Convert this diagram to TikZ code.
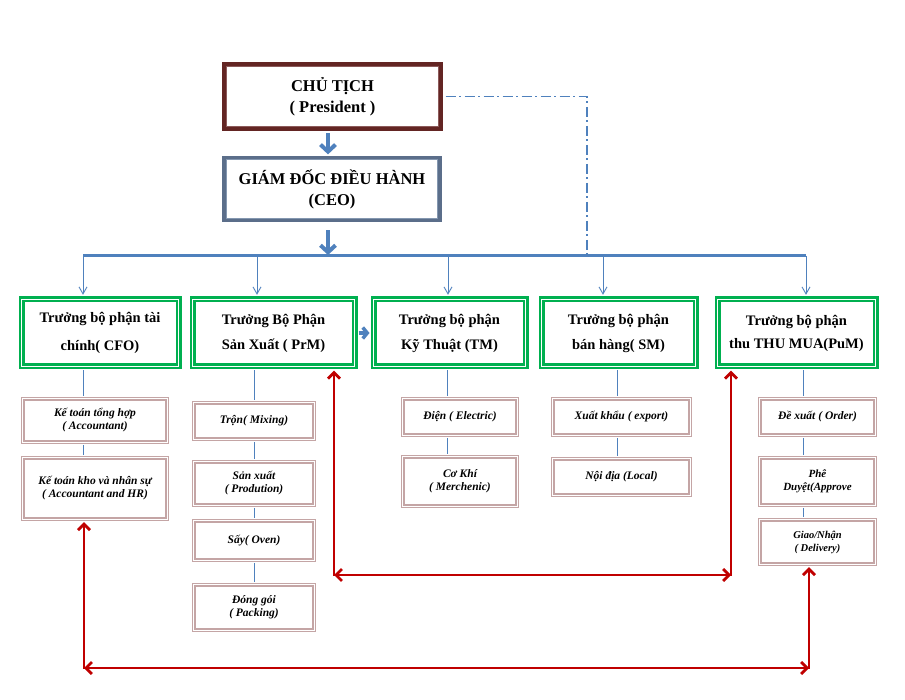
\documentclass[tikz,border=0pt]{standalone}
\usepackage{fontspec}
\setmainfont{Liberation Serif}
\usetikzlibrary{arrows.meta}
\definecolor{blu}{HTML}{4F81BD}
\definecolor{grn}{HTML}{00B050}
\definecolor{maroonc}{HTML}{632523}
\definecolor{maroonin}{HTML}{8C5A5A}
\definecolor{ceoc}{HTML}{5B6E8A}
\definecolor{ceoin}{HTML}{8497B0}
\definecolor{pinkc}{HTML}{C4A5A5}
\definecolor{rd}{HTML}{C00000}
\begin{document}
\begin{tikzpicture}[x=1pt,y=-1pt,
  topbox/.style={align=center, inner sep=0pt, font=\fontsize{16.5}{21}\selectfont\bfseries},
  gbox/.style={draw=grn, double=white, line width=2.4pt, double distance=1.2pt, align=center, inner sep=0pt, font=\fontsize{14.5}{25}\selectfont\bfseries},
  pbox/.style={draw=pinkc, double=white, line width=1.6pt, double distance=1pt, align=center, inner sep=0pt, font=\fontsize{11.5}{13}\selectfont\bfseries\itshape},
  bigarr/.style={draw=blu, line width=4pt, -{Straight Barb[length=7pt,width=15pt]}},
  droparr/.style={draw=blu, line width=0.9pt, -{Straight Barb[length=7pt,width=8pt]}},
  subline/.style={draw=blu, line width=0.8pt},
  redarr/.style={draw=rd, line width=2.8pt, >={Straight Barb[length=6pt,width=12pt]}}
]
\fill[white] (0,0) rectangle (905,700);
\useasboundingbox (0,0) rectangle (905,700);

% top boxes
\node[topbox, draw=maroonc, line width=4.5pt, minimum width=216.5pt, minimum height=64.5pt] (pres) at (332.5,96.5) {CHỦ TỊCH\\( President )};
\draw[maroonin, line width=1pt] ([shift={(4.5,4.5)}]pres.north west) rectangle ([shift={(-4.5,-4.5)}]pres.south east);
\node[topbox, draw=ceoc, line width=3.3pt, minimum width=216pt, minimum height=63pt] (ceo) at (332,189) {GIÁM ĐỐC ĐIỀU HÀNH\\(CEO)};
\draw[ceoin, line width=1pt] ([shift={(3.8,3.8)}]ceo.north west) rectangle ([shift={(-3.8,-3.8)}]ceo.south east);

% department heads
\node[gbox, minimum width=157pt, minimum height=67pt, font=\fontsize{14.5}{28}\selectfont\bfseries] (cfo) at (100,333) {Trưởng bộ phận tài\\chính( CFO)};
\node[gbox, minimum width=162pt, minimum height=67pt] (prm) at (273.5,333) {Trưởng Bộ Phận\\Sản Xuất ( PrM)};
\node[gbox, minimum width=152pt, minimum height=67pt] (tm) at (449.5,333) {Trưởng bộ phận\\Kỹ Thuật (TM)};
\node[gbox, minimum width=154pt, minimum height=67pt] (sm) at (618.5,333) {Trưởng bộ phận\\bán hàng( SM)};
\node[gbox, minimum width=158pt, minimum height=67pt, font=\fontsize{14.5}{23}\selectfont\bfseries] (pum) at (796.5,333) {Trưởng bộ phận\\thu THU MUA(PuM)};

% sub boxes
\node[pbox, minimum width=144.5pt, minimum height=43.5pt] (cfoa) at (95,420.5) {Kế toán tổng hợp\\( Accountant)};
\node[pbox, minimum width=144.5pt, minimum height=61.5pt] (cfob) at (95,488.5) {Kế toán kho và nhân sự\\( Accountant and HR)};
\node[pbox, minimum width=120.5pt, minimum height=36.5pt] (tron) at (254,421) {Trộn( Mixing)};
\node[pbox, minimum width=120.5pt, minimum height=43.5pt] (sx) at (254,483.5) {Sản xuất\\( Prodution)};
\node[pbox, minimum width=120.5pt, minimum height=39.5pt] (say) at (254,540.5) {Sấy( Oven)};
\node[pbox, minimum width=120.5pt, minimum height=45.5pt] (dong) at (254,607.5) {Đóng gói\\( Packing)};
\node[pbox, minimum width=114.5pt, minimum height=36.5pt] (dien) at (460,417) {Điện ( Electric)};
\node[pbox, minimum width=114.5pt, minimum height=49.5pt] (cokhi) at (460,481.5) {Cơ Khí\\( Merchenic)};
\node[pbox, minimum width=137.5pt, minimum height=36.5pt] (xk) at (621.5,417) {Xuất khẩu ( export)};
\node[pbox, minimum width=137.5pt, minimum height=36.5pt] (nd) at (621.5,477) {Nội địa (Local)};
\node[pbox, minimum width=115.5pt, minimum height=36.5pt] (dx) at (817.5,417) {Đề xuất ( Order)};
\node[pbox, minimum width=115.5pt, minimum height=47.5pt, font=\fontsize{11}{13}\selectfont\bfseries\itshape] (pd) at (817.5,481.5) {Phê\\Duyệt(Approve};
\node[pbox, minimum width=115.5pt, minimum height=44.5pt, font=\fontsize{10.5}{13}\selectfont\bfseries\itshape] (giao) at (817.5,542) {Giao/Nhận\\( Delivery)};

% coordinates
\coordinate (xc) at (328,0);
\coordinate (b1) at (83,256);
\coordinate (b2) at (257,256);
\coordinate (b3) at (448,256);
\coordinate (b4) at (603,256);
\coordinate (b5) at (806,256);
\coordinate (bc) at (328,256);
\coordinate (dd) at (587,256);
\coordinate (ca) at (83,0);
\coordinate (cb) at (254,0);
\coordinate (cc) at (447,0);
\coordinate (cd) at (617,0);
\coordinate (ce) at (803,0);
\coordinate (m1) at (334,575);
\coordinate (m2) at (731,575);
\coordinate (n1) at (84,668);
\coordinate (n2) at (809,668);

% top connectors
\draw[bigarr, shorten <=2.5pt, shorten >=1.5pt] (pres.south -| xc) -- (ceo.north -| xc);
\draw[bigarr, shorten <=8pt, shorten >=1pt] (ceo.south -| xc) -- (bc);
\draw[blu, line width=3pt] (b1) -- (b5);
\draw[blu, line width=1.4pt, dash pattern=on 10pt off 3.5pt on 2pt off 3.5pt] ([xshift=2.5pt]pres.east) -| (dd);
\draw[droparr, shorten >=3.5pt] (b1) -- (cfo.north -| b1);
\draw[droparr, shorten >=3.5pt] (b2) -- (prm.north -| b2);
\draw[droparr, shorten >=3.5pt] (b3) -- (tm.north -| b3);
\draw[droparr, shorten >=3.5pt] (b4) -- (sm.north -| b4);
\draw[droparr, shorten >=3.5pt] (b5) -- (pum.north -| b5);
\draw[draw=blu, line width=3.5pt, -{Straight Barb[length=4.5pt,width=11pt]}, shorten <=2.8pt, shorten >=2.8pt] (prm.east) -- (tm.west);

% sub connectors
\draw[subline, shorten <=2.8pt, shorten >=1.7pt] (cfo.south -| ca) -- (cfoa.north -| ca);
\draw[subline, shorten <=1.7pt, shorten >=1.7pt] (cfoa.south -| ca) -- (cfob.north -| ca);
\draw[subline, shorten <=2.8pt, shorten >=1.7pt] (prm.south -| cb) -- (tron.north -| cb);
\draw[subline, shorten <=1.7pt, shorten >=1.7pt] (tron.south -| cb) -- (sx.north -| cb);
\draw[subline, shorten <=1.7pt, shorten >=1.7pt] (sx.south -| cb) -- (say.north -| cb);
\draw[subline, shorten <=1.7pt, shorten >=1.7pt] (say.south -| cb) -- (dong.north -| cb);
\draw[subline, shorten <=2.8pt, shorten >=1.7pt] (tm.south -| cc) -- (dien.north -| cc);
\draw[subline, shorten <=1.7pt, shorten >=1.7pt] (dien.south -| cc) -- (cokhi.north -| cc);
\draw[subline, shorten <=2.8pt, shorten >=1.7pt] (sm.south -| cd) -- (xk.north -| cd);
\draw[subline, shorten <=1.7pt, shorten >=1.7pt] (xk.south -| cd) -- (nd.north -| cd);
\draw[subline, shorten <=2.8pt, shorten >=1.7pt] (pum.south -| ce) -- (dx.north -| ce);
\draw[subline, shorten <=1.7pt, shorten >=1.7pt] (dx.south -| ce) -- (pd.north -| ce);
\draw[subline, shorten <=1.7pt, shorten >=1.7pt] (pd.south -| ce) -- (giao.north -| ce);

% red links
\draw[redarr, <->, shorten <=3pt, shorten >=3pt] (prm.south -| m1) -- (m1) -- (m2) -- (pum.south -| m2);
\draw[redarr, <->] (m1) -- (m2);
\draw[redarr, <->, shorten <=2pt, shorten >=2pt] (cfob.south -| n1) -- (n1) -- (n2) -- (giao.south -| n2);
\draw[redarr, <->] (n1) -- (n2);
\end{tikzpicture}
\end{document}
